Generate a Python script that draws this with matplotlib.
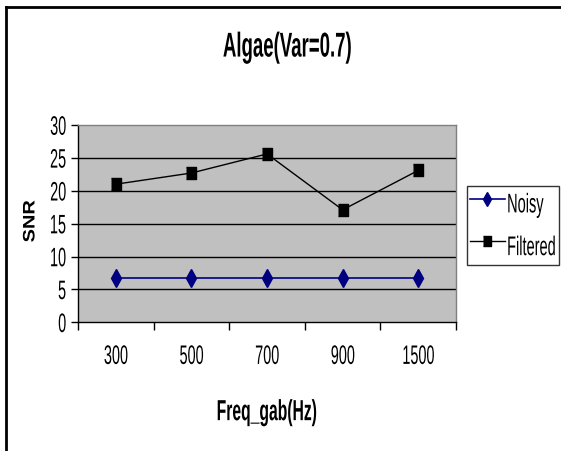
import matplotlib
matplotlib.use('Agg')
import matplotlib.pyplot as plt
from matplotlib.lines import Line2D
from matplotlib.patheffects import AbstractPathEffect
from matplotlib.transforms import Affine2D

plt.rcParams['font.family'] = ['Liberation Sans', 'DejaVu Sans']

# ─── DATA ─────────────────────────────────────────────────────────────────────
freqs    = ['300', '500', '700', '900', '1500']
noisy    = [6.7, 6.7, 6.7, 6.7, 6.7]
filtered = [21.0, 22.7, 25.6, 17.1, 23.1]


class Stretch(AbstractPathEffect):
    """Scale glyphs vertically about their own centre (tall, narrow lettering)."""
    def __init__(self, sy):
        super().__init__()
        self.sy = sy

    def draw_path(self, renderer, gc, tpath, affine, rgbFace=None):
        ext = tpath.get_extents(affine)
        cy = 0.5 * (ext.y0 + ext.y1)
        t = affine + Affine2D().translate(0, -cy).scale(1, self.sy).translate(0, cy)
        renderer.draw_path(gc, tpath, t, rgbFace)


TALL = [Stretch(1.85)]

# ─── FIGURE ───────────────────────────────────────────────────────────────────
fig = plt.figure(figsize=(5.61, 4.51), dpi=100)
ax = fig.add_axes([0.139, 0.2854, 0.674, 0.4374])
ax.set_facecolor('#C0C0C0')

# taller-than-wide markers
box = [(-5, -6), (5, -6), (5, 6), (-5, 6)]
x = range(len(freqs))
ax.plot(x, noisy, color='#000080', lw=1.2, marker='d', ms=9, label='Noisy', zorder=3)
ax.plot(x, filtered, color='black', lw=1.0, marker=box, ms=9, label='Filtered', zorder=3)

ax.set_xlim(-0.5, len(freqs) - 0.5)
ax.set_ylim(0, 30)
ax.set_yticks(range(0, 31, 5))
for v in range(5, 30, 5):
    ax.axhline(v, color='black', lw=1.0, zorder=1)

# category ticks sit between labels
ax.set_xticks([i - 0.5 for i in range(len(freqs) + 1)])
ax.set_xticklabels([])
ax.set_xticks(list(x), minor=True)
ax.set_xticklabels(freqs, minor=True)
ax.tick_params(axis='x', which='major', direction='out', length=6, width=1)
ax.tick_params(axis='x', which='minor', length=0, pad=19, labelsize=10.4)
ax.tick_params(axis='y', direction='out', length=5, width=1, pad=3.6, labelsize=10.4)
for lab in ax.get_xticklabels(minor=True) + ax.get_yticklabels():
    lab.set_path_effects(TALL)

for side in ['top', 'right']:
    ax.spines[side].set_color('#808080')
    ax.spines[side].set_linewidth(1)
for side in ['left', 'bottom']:
    ax.spines[side].set_color('black')
    ax.spines[side].set_linewidth(1)

ax.set_ylabel('SNR', fontsize=12, fontweight='bold', va='center', ha='center',
              path_effects=[Stretch(1.2)])
ax.yaxis.set_label_coords(-0.127, 0.512)
ax.set_xlabel('Freq_gab(Hz)', fontsize=11.3, fontweight='bold', va='center',
              path_effects=TALL)
ax.xaxis.set_label_coords(0.5, -0.456)

fig.text(0.512, 1 - 48 / 451, 'Algae(Var=0.7)', ha='center', va='center',
         fontsize=13.4, fontweight='bold', path_effects=TALL)

leg = fig.legend(loc='upper left', bbox_to_anchor=(467 / 561, 1 - 186 / 451),
                 fontsize=10.5, frameon=True, fancybox=False, handlelength=2.4,
                 handleheight=3.0, handletextpad=0.15, borderpad=0.2,
                 labelspacing=0.65, borderaxespad=0)
leg.get_frame().set_edgecolor('black')
leg.get_frame().set_linewidth(1)
for t in leg.get_texts():
    t.set_path_effects(TALL)
for h in leg.legend_handles:
    h.set_markersize(7)

# outer chart frame (left and top edges)
fig.add_artist(Line2D([0.011, 0.011], [0.0, 0.985], color='black', lw=2,
                      transform=fig.transFigure))
fig.add_artist(Line2D([0.011, 1.0], [0.985, 0.985], color='black', lw=2,
                      transform=fig.transFigure))

fig.savefig('out.png', dpi=100)
